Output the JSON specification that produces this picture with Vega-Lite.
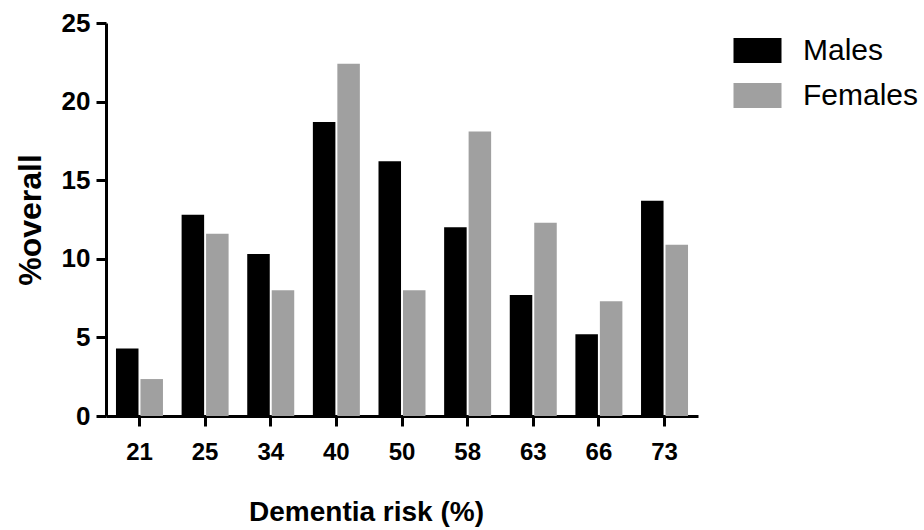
{
  "$schema": "https://vega.github.io/schema/vega-lite/v6.json",
  "description": "Percentage overall by dementia risk, males vs females",
  "autosize": "none",
  "padding": {"left": 106, "top": 23, "right": 226, "bottom": 114},
  "width": 592,
  "height": 393,
  "background": "white",
  "data": {
    "values": [
      {"risk": "21", "sex": "Males", "pct": 4.3},
      {"risk": "21", "sex": "Females", "pct": 2.35},
      {"risk": "25", "sex": "Males", "pct": 12.8},
      {"risk": "25", "sex": "Females", "pct": 11.6},
      {"risk": "34", "sex": "Males", "pct": 10.3},
      {"risk": "34", "sex": "Females", "pct": 8.0},
      {"risk": "40", "sex": "Males", "pct": 18.7},
      {"risk": "40", "sex": "Females", "pct": 22.4},
      {"risk": "50", "sex": "Males", "pct": 16.2},
      {"risk": "50", "sex": "Females", "pct": 8.0},
      {"risk": "58", "sex": "Males", "pct": 12.0},
      {"risk": "58", "sex": "Females", "pct": 18.1},
      {"risk": "63", "sex": "Males", "pct": 7.7},
      {"risk": "63", "sex": "Females", "pct": 12.3},
      {"risk": "66", "sex": "Males", "pct": 5.2},
      {"risk": "66", "sex": "Females", "pct": 7.3},
      {"risk": "73", "sex": "Males", "pct": 13.7},
      {"risk": "73", "sex": "Females", "pct": 10.9}
    ]
  },
  "mark": {"type": "bar"},
  "encoding": {
    "x": {
      "field": "risk",
      "type": "ordinal",
      "sort": null,
      "scale": {"paddingInner": 0.284, "paddingOuter": 0.152},
      "axis": {
        "title": "Dementia risk (%)",
        "titleFont": "Liberation Sans",
        "titleFontWeight": "bold",
        "titleFontSize": 28,
        "titleColor": "black",
        "titleX": 260,
        "titleY": 104,
        "titleBaseline": "alphabetic",
        "titleAlign": "center",
        "labelFont": "Liberation Sans",
        "labelFontWeight": "bold",
        "labelFontSize": 24,
        "labelColor": "black",
        "labelAngle": 0,
        "labelBaseline": "alphabetic",
        "labelPadding": 33,
        "domainColor": "black",
        "domainWidth": 3,
        "tickColor": "black",
        "tickWidth": 3,
        "tickSize": 10
      }
    },
    "xOffset": {
      "field": "sex",
      "sort": ["Males", "Females"],
      "scale": {"paddingInner": 0.08}
    },
    "y": {
      "field": "pct",
      "type": "quantitative",
      "scale": {"domain": [0, 25], "nice": false},
      "axis": {
        "title": "%overall",
        "titleFont": "Liberation Sans",
        "titleFontWeight": "bold",
        "titleFontSize": 32,
        "titleColor": "black",
        "titleAngle": 270,
        "titleX": -66,
        "titleY": 196.5,
        "titleAlign": "center",
        "titleBaseline": "alphabetic",
        "values": [0, 5, 10, 15, 20, 25],
        "labelFont": "Liberation Sans",
        "labelFontWeight": "bold",
        "labelFontSize": 26,
        "labelColor": "black",
        "labelPadding": 6,
        "grid": false,
        "domainColor": "black",
        "domainWidth": 3,
        "tickColor": "black",
        "tickWidth": 3,
        "tickSize": 10
      }
    },
    "color": {
      "field": "sex",
      "type": "nominal",
      "sort": ["Males", "Females"],
      "scale": {"domain": ["Males", "Females"], "range": ["#000000", "#a0a0a0"]},
      "legend": {
        "title": null,
        "orient": "none",
        "legendX": 636.5,
        "legendY": 12.5,
        "padding": 0,
        "symbolType": "M-1.92,-1h3.84v2h-3.84z",
        "symbolSize": 625,
        "symbolStrokeWidth": 0,
        "labelFont": "Liberation Sans",
        "labelFontSize": 30,
        "labelColor": "black",
        "labelOffset": 30.5,
        "rowPadding": 15,
        "labelLimit": 300
      }
    }
  },
  "config": {
    "view": {"stroke": null}
  }
}
